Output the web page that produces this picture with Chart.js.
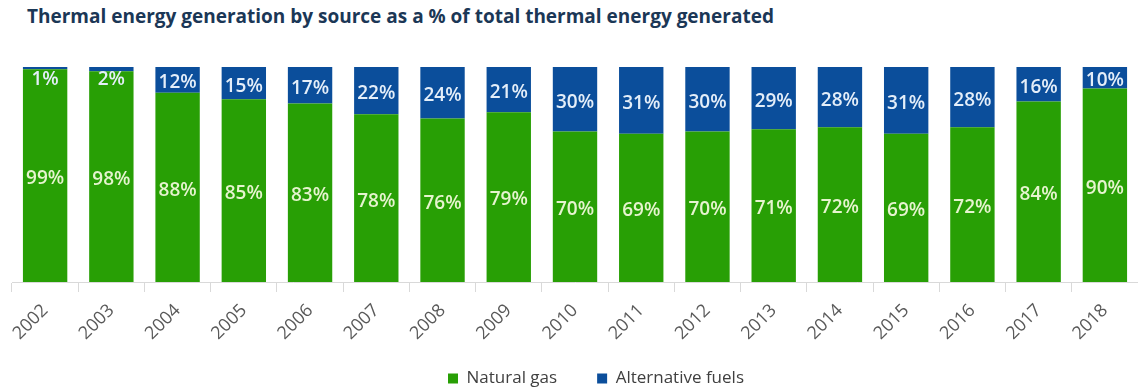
<!DOCTYPE html>
<html>
<head>
<meta charset="utf-8">
<script src="https://cdn.jsdelivr.net/npm/chart.js@4/dist/chart.umd.min.js"></script>
<style>
  html, body { margin: 0; padding: 0; background: #fff; }
  #wrap { position: relative; width: 1138px; height: 389px; }
  #title { position: absolute; left: 27px; top: 3px; font: bold 19px "Open Sans", sans-serif; color: #1b3756; white-space: nowrap; }
  canvas { position: absolute; left: 0; top: 0; }
</style>
</head>
<body>
<div id="wrap">
  <div id="title">Thermal energy generation by source as a % of total thermal energy generated</div>
  <canvas id="chart" width="1138" height="389"></canvas>
</div>
<script>
const years = ["2002","2003","2004","2005","2006","2007","2008","2009","2010","2011","2012","2013","2014","2015","2016","2017","2018"];
const naturalGas = [99,98,88,85,83,78,76,79,70,69,70,71,72,69,72,84,90];
const altFuels   = [1,2,12,15,17,22,24,21,30,31,30,29,28,31,28,16,10];

const GREEN = "#289f05";
const BLUE = "#0b4e9b";

// draw the % labels in the middle of each segment
const segLabels = {
    id: "segLabels",
    afterLayout(chart){
        // nudge legend a bit to the right like the original
        chart.legend.left += 21;
        chart.legend.right += 21;
        // let the rotated year labels run past the squeezed axis box
        chart.scales.x.bottom = chart.height;
    },
    afterDatasetsDraw(chart){
        const ctx = chart.ctx;
        const top = chart.chartArea.top;
        ctx.save();
        ctx.font = "600 19px 'Open Sans', sans-serif";
        ctx.textAlign = "center";
        ctx.textBaseline = "middle";
        chart.data.datasets.forEach((ds, i)=>{
            const meta = chart.getDatasetMeta(i);
            ctx.fillStyle = i==0 ? "#e6f4cf" : "#e4eef9";
            meta.data.forEach((bar, j)=>{
                let y = (bar.y + bar.base)/2 + 3;
                if(i==1) y = Math.max(y, top + 13);
                ctx.fillText(ds.data[j]+"%", bar.x, y);
            });
        });
        ctx.restore();
    }
};

new Chart(document.getElementById("chart"), {
    type: "bar",
    data: {
        labels: years,
        datasets: [
            { label: "Natural gas", data: naturalGas, backgroundColor: GREEN },
            { label: "Alternative fuels", data: altFuels, backgroundColor: BLUE }
        ]
    },
    options: {
        responsive: false,
        animation: false,
        layout: { padding: { top: 67, left: 12, right: 0, bottom: 0 } },
        datasets: { bar: { barPercentage: 0.67, categoryPercentage: 1.0 } },
        scales: {
            x: {
                stacked: true,
                afterFit: (s)=>{ s.height = 48; },
                grid: { offset: true, drawOnChartArea: false, tickLength: 10, color: "#d9d9d9" },
                border: { color: "#d9d9d9" },
                ticks: { minRotation: 45, maxRotation: 45, color: "#595959", padding: 8,
                         font: { family: "'Open Sans', sans-serif", size: 18 } }
            },
            y: { stacked: true, display: false, min: 0, max: 100 }
        },
        plugins: {
            legend: {
                position: "bottom",
                maxHeight: 59,
                labels: { boxWidth: 10, boxHeight: 10, padding: 40, color: "#404040",
                          font: { family: "'Open Sans', sans-serif", size: 17 } }
            },
            tooltip: { enabled: false }
        }
    },
    plugins: [segLabels]
});
</script>
</body>
</html>
